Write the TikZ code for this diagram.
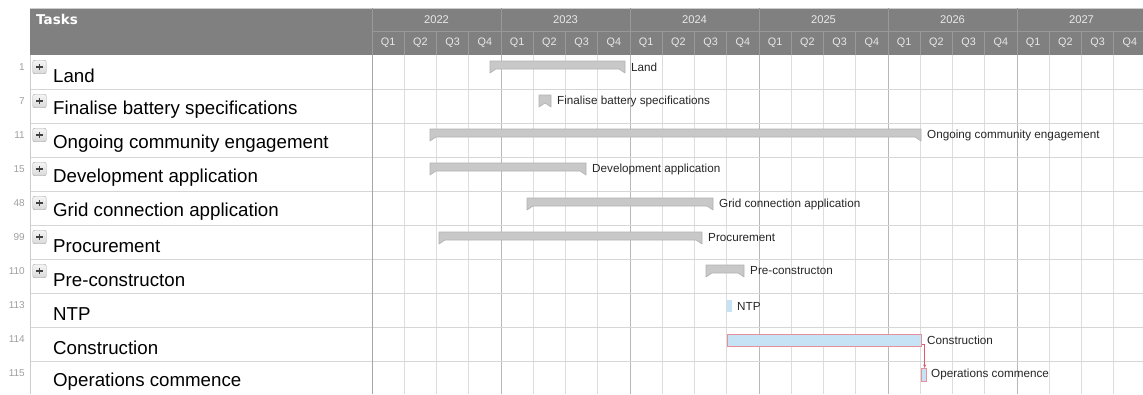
\documentclass[tikz,border=0pt]{standalone}
\usepackage{fontspec}
\setmainfont{Liberation Sans}
\newfontfamily\hdrfont{DejaVu Sans}
\usetikzlibrary{arrows.meta}
\definecolor{hdr}{HTML}{808080}
\definecolor{hdrline}{HTML}{999999}
\definecolor{hdrtxt}{HTML}{E8E8E8}
\definecolor{gridh}{HTML}{D6D6D6}
\definecolor{gridq}{HTML}{DDDDDD}
\definecolor{gridy}{HTML}{B8B8B8}
\definecolor{numgray}{HTML}{A0A0A0}
\definecolor{barfill}{HTML}{C8C8C8}
\definecolor{baredge}{HTML}{B2B2B2}
\definecolor{bluefill}{HTML}{C6E2F5}
\definecolor{pinkedge}{HTML}{E8909A}
\definecolor{deparrow}{HTML}{E05A6A}
\newcommand\gsumbar[5]{%
  \draw[sumbar] (#2,#4) -- (#3,#4) -- (#3,{#4+12}) -- ({#3-6},{#4+8}) -- ({#2+6},{#4+8}) -- (#2,{#4+12}) -- cycle;
  \node[barlbl] (#1) at ({#3+6},{#4+6}) {#5};
}
\begin{document}
\begin{tikzpicture}[x=1pt,y=-1pt,
  rowline/.style={draw=gridh, line width=0.9pt},
  qline/.style={draw=gridq, line width=0.8pt},
  yline/.style={draw=gridy, line width=1pt},
  hline/.style={draw=hdrline, line width=0.8pt},
  yearlbl/.style={text=hdrtxt, font=\fontsize{11.2}{12}\selectfont, inner sep=0},
  qlbl/.style={text=hdrtxt, font=\fontsize{10.8}{12}\selectfont, inner sep=0},
  numlbl/.style={text=numgray, font=\fontsize{10}{11}\selectfont, anchor=east, inner sep=0},
  tasklbl/.style={text=black, font=\fontsize{18.7}{20}\selectfont, anchor=west, inner sep=0},
  barlbl/.style={text=black!85, font=\fontsize{11.7}{13}\selectfont, anchor=west, inner sep=0},
  sumbar/.style={fill=barfill, draw=baredge, line width=0.6pt, line join=round},
  plusbox/.style={draw=black!35, rounded corners=2pt, minimum size=13.5pt, inner sep=0,
    top color=gray!8, bottom color=gray!30,
    path picture={\draw[black!75, line width=1.1pt]
      ([xshift=-3.2pt]path picture bounding box.center) -- ([xshift=3.2pt]path picture bounding box.center)
      ([yshift=-3.2pt]path picture bounding box.center) -- ([yshift=3.2pt]path picture bounding box.center);}},
  bluebar/.style={fill=bluefill, inner sep=0, anchor=north west},
  dep/.style={draw=deparrow, line width=0.9pt, -{Stealth[length=3.5pt,width=3pt]}}
]
\clip (0,0) rectangle (1143,394);
\fill[white] (0,0) rectangle (1143,394);
% header
\fill[hdr] (30,8) rectangle (1143,55);
\draw[draw=gray!40, line width=0.6pt] (30,8) -- (1143,8);
\draw[hline] (372,31) -- (1143,31);
\draw[hline] (372,8) -- (372,55);
\foreach \q in {1,...,23}{
  \pgfmathsetmacro\xx{372+32.25*\q}
  \pgfmathtruncatemacro\isyear{mod(\q,4)==0 ? 1 : 0}
  \ifnum\isyear=1
    \draw[hline] (\xx,8) -- (\xx,55);
    \draw[yline] (\xx,55) -- (\xx,394);
  \else
    \draw[hline] (\xx,31) -- (\xx,55);
    \draw[qline] (\xx,55) -- (\xx,394);
  \fi
}
% horizontal row lines
\foreach \k in {1,...,10}{
  \draw[rowline] (30,{55+34*\k}) -- (1143,{55+34*\k});
}
\draw[draw=gray!40, line width=0.8pt] (30,55) -- (30,394);
\draw[draw=gray!70, line width=1pt] (372,55) -- (372,394);
% header labels
\node[text=white, font=\hdrfont\bfseries\fontsize{13.5}{14}\selectfont, anchor=west, inner sep=0] (tasks) at (36,19) {Tasks};
\foreach \yr [count=\i from 0] in {2022,2023,2024,2025,2026,2027}{
  \node[yearlbl] (yr\yr) at ({372+129*\i+64.5},19.5) {\yr};
}
\foreach \i in {0,...,23}{
  \pgfmathtruncatemacro\qq{mod(\i,4)+1}
  \node[qlbl] (q\i) at ({372+32.25*\i+16.1},43) {Q\qq};
}
% task rows
\foreach \k/\num/\txt/\pl in {0/1/Land/1,1/7/Finalise battery specifications/1,2/11/Ongoing community engagement/1,3/15/Development application/1,4/48/Grid connection application/1,5/99/Procurement/1,6/110/Pre-constructon/1,7/113/NTP/0,8/114/Construction/0,9/115/Operations commence/0}{
  \pgfmathsetmacro\ty{55+34*\k}
  \node[numlbl] (num\k) at (25,{\ty+12}) {\num};
  \node[tasklbl] (task\k) at (53,{\ty+21}) {\txt};
  \ifnum\pl=1 \node[plusbox] (plus\k) at (39.5,{\ty+12}) {}; \fi
}
% summary bars
\gsumbar{land}{490}{625}{61}{Land}
\gsumbar{fin}{539}{551}{95}{Finalise battery specifications}
\gsumbar{ong}{430}{921}{129}{Ongoing community engagement}
\gsumbar{dev}{430}{586}{163}{Development application}
\gsumbar{grid}{527}{713}{198}{Grid connection application}
\gsumbar{proc}{439}{702}{232}{Procurement}
\gsumbar{pre}{706}{744}{265}{Pre-constructon}
% task bars
\node[bluebar, minimum width=5pt, minimum height=12pt] (ntp) at (727,300) {};
\node[barlbl] (ntplbl) at (737,306) {NTP};
\node[bluebar, draw=pinkedge, line width=0.8pt, minimum width=194pt, minimum height=12pt] (cons) at (727,334) {};
\node[barlbl] (conslbl) at (927,340) {Construction};
\node[bluebar, draw=pinkedge, line width=0.8pt, minimum width=4.5pt, minimum height=13pt] (ops) at (921,368) {};
\node[barlbl] (opslbl) at (931,374.5) {Operations commence};
\draw[dep] ([yshift=2pt]cons.south east) -| ([xshift=1pt]ops.north);
\end{tikzpicture}
\end{document}
